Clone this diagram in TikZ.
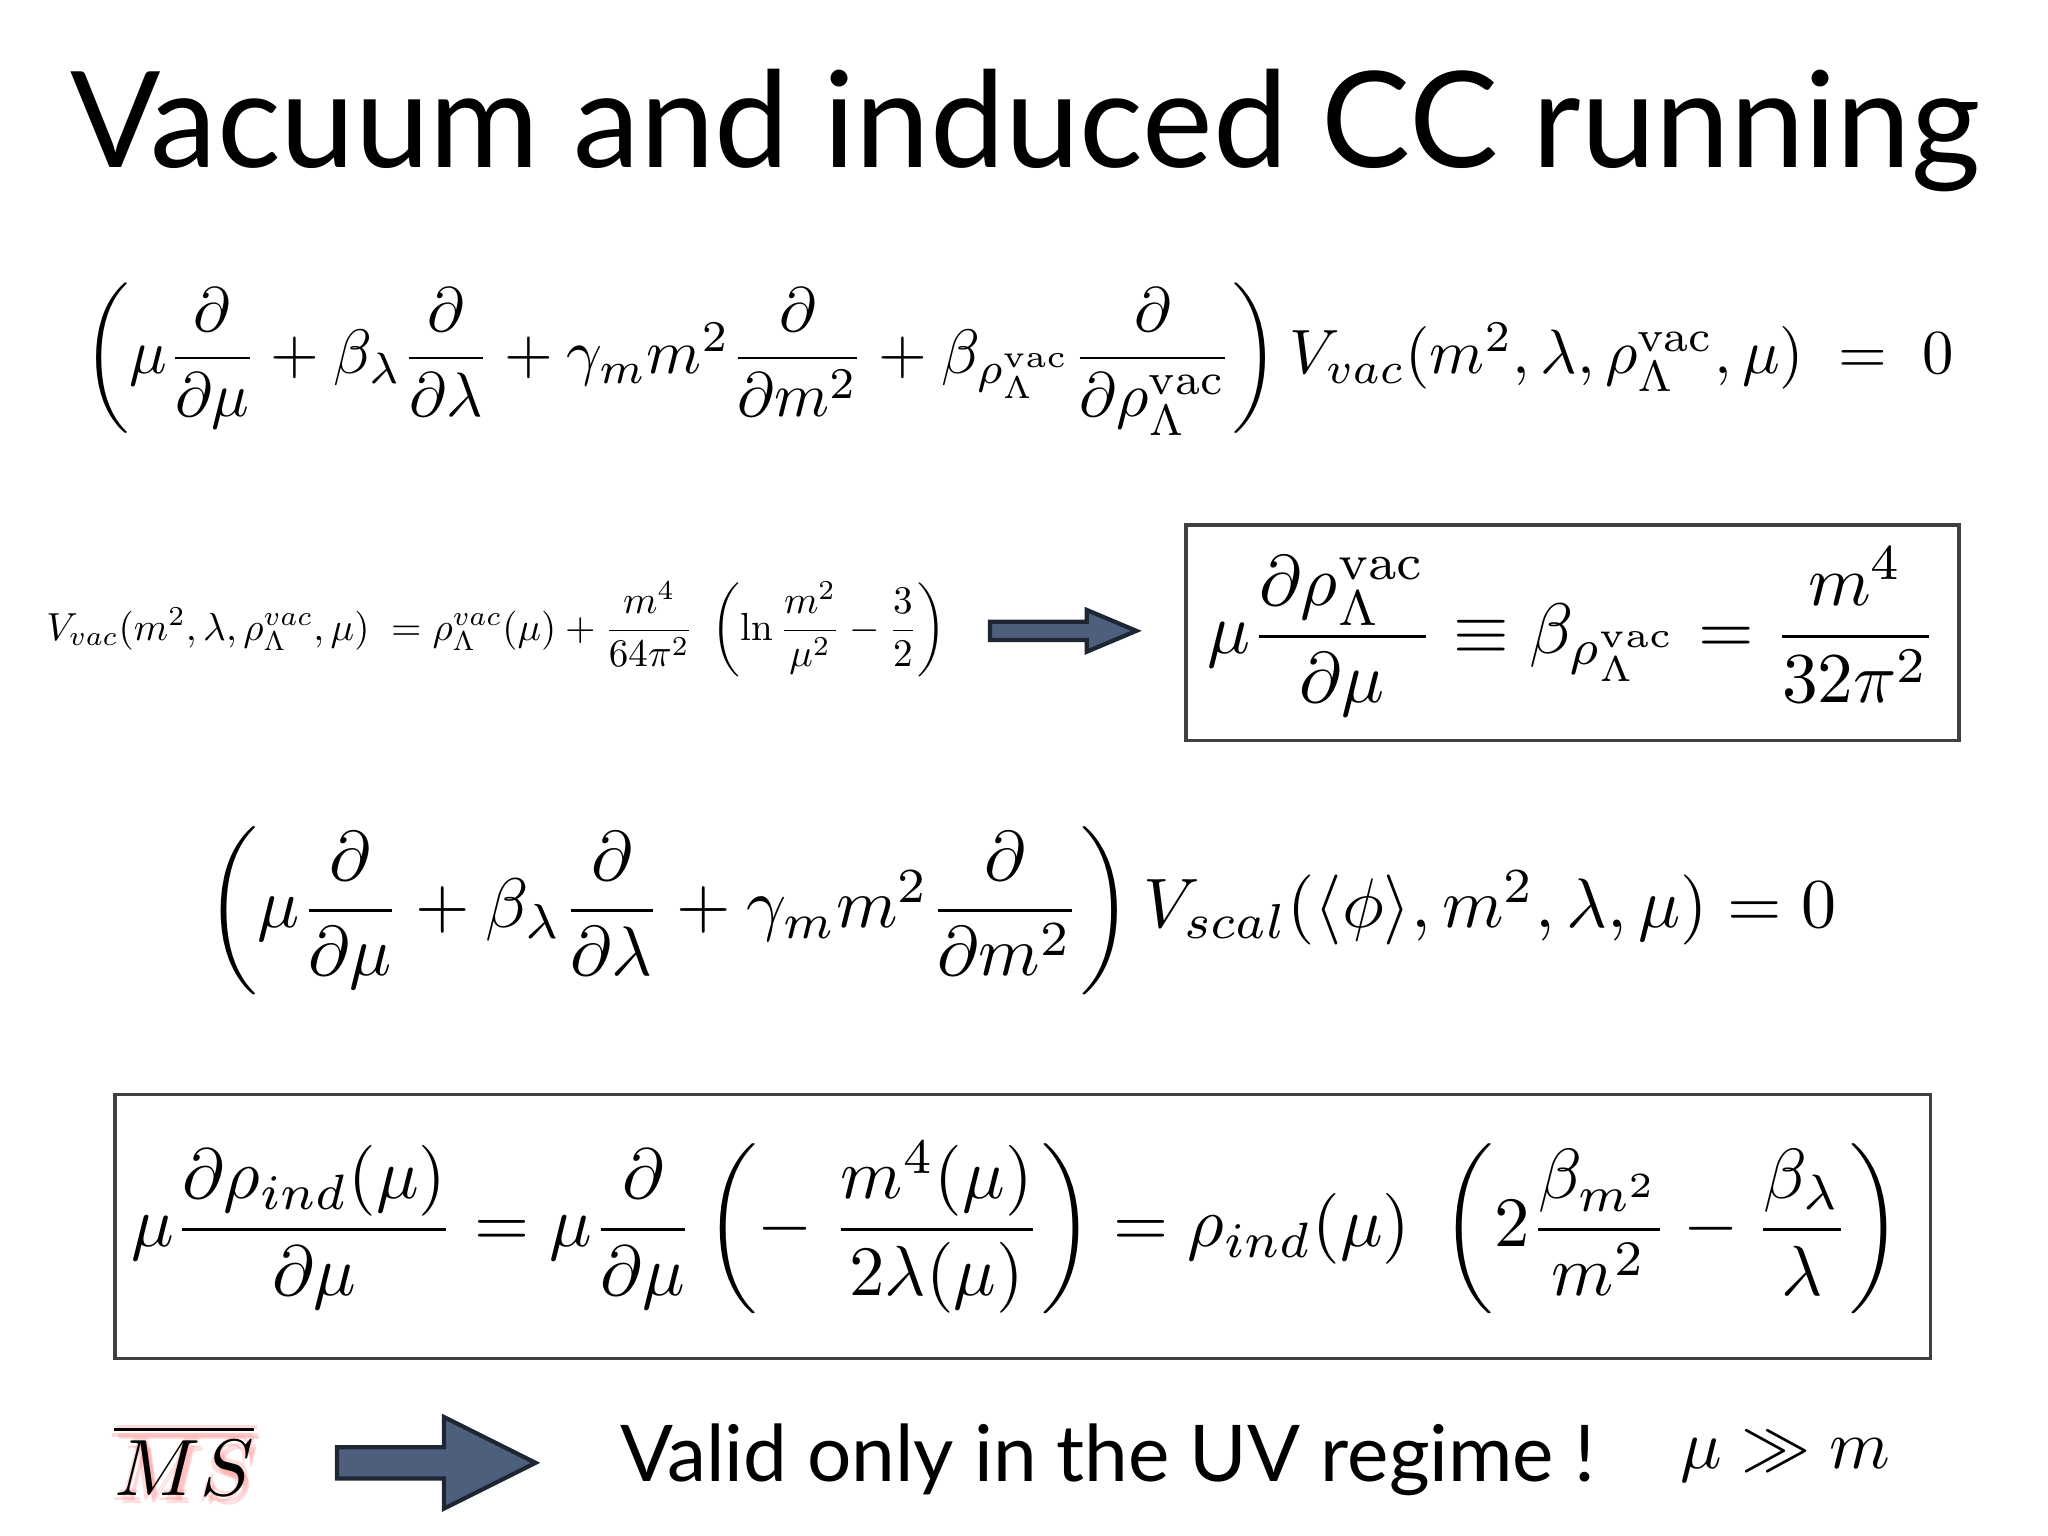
\documentclass[tikz,border=0pt]{standalone}
\usepackage{amsmath,amssymb}
\usepackage{fontspec}
\newfontfamily\titlefont{Lato}
\definecolor{arrowfill}{HTML}{4E5F7E}
\definecolor{arrowdraw}{HTML}{1E2533}
\tikzset{
  bigarrow/.style={draw=arrowdraw, fill=arrowfill, line width=1.2pt, line join=miter},
  eqbox/.style={draw=black!75, line width=1pt}
}
\begin{document}
\begin{tikzpicture}[x=0.01306cm,y=-0.01306cm]
\useasboundingbox[fill=white] (0,0) rectangle (1568,1176);
\node (title) at (785,100) {\resizebox{19.1cm}{!}{\titlefont Vacuum and induced CC running}};
\node (eqa) at (780,275) {\resizebox{18.7cm}{!}{$\left(\mu\dfrac{\partial}{\partial\mu}+\beta_\lambda\dfrac{\partial}{\partial\lambda}+\gamma_m m^2\dfrac{\partial}{\partial m^2}+\beta_{\rho_\Lambda^{\rm vac}}\dfrac{\partial}{\partial\rho_\Lambda^{\rm vac}}\right)V_{vac}(m^2,\lambda,\rho_\Lambda^{\rm vac},\mu)\;=\;0$}};
\node (eqb) at (380,482) {\resizebox{9.0cm}{!}{$V_{vac}(m^2,\lambda,\rho_\Lambda^{vac},\mu)\;=\rho_\Lambda^{vac}(\mu)+\dfrac{m^4}{64\pi^2}\;\left(\ln\dfrac{m^2}{\mu^2}-\dfrac{3}{2}\right)$}};
\draw[bigarrow] (758,476) -- (832,476) -- (832,467) -- (870,483) -- (832,499) -- (832,490) -- (758,490) -- cycle;
\draw[eqbox] (908,402) rectangle (1500,567);
\node (eqc) at (1204,484) {\resizebox{7.3cm}{!}{$\mu\dfrac{\partial\rho_\Lambda^{\rm vac}}{\partial\mu}\equiv\beta_{\rho_\Lambda^{\rm vac}}=\dfrac{m^4}{32\pi^2}$}};
\node (eqd) at (782,697) {\resizebox{16.3cm}{!}{$\left(\mu\dfrac{\partial}{\partial\mu}+\beta_\lambda\dfrac{\partial}{\partial\lambda}+\gamma_m m^2\dfrac{\partial}{\partial m^2}\right)V_{scal}(\langle\phi\rangle,m^2,\lambda,\mu)=0$}};
\draw[eqbox] (88,838) rectangle (1478,1040);
\node (eqe) at (778,940) {\resizebox{17.7cm}{!}{$\mu\dfrac{\partial\rho_{ind}(\mu)}{\partial\mu}=\mu\dfrac{\partial}{\partial\mu}\left(-\;\dfrac{m^4(\mu)}{2\lambda(\mu)}\right)=\rho_{ind}(\mu)\;\left(2\dfrac{\beta_{m^2}}{m^2}-\dfrac{\beta_\lambda}{\lambda}\right)$}};
\foreach \dx/\dy in {3/4,-2/4,2/-2,4/6}{
  \node[text=red!40, opacity=0.35] at (141+\dx,1118+\dy) {\resizebox{1.4cm}{!}{$\overline{MS}$}};}
\node (ms) at (141,1118) {\resizebox{1.4cm}{!}{$\overline{MS}$}};
\draw[bigarrow] (258,1108) -- (340,1108) -- (340,1085) -- (410,1120) -- (340,1155) -- (340,1132) -- (258,1132) -- cycle;
\node (valid) at (848,1118) {\resizebox{9.75cm}{!}{\titlefont Valid only in the UV regime !}};
\node (mugg) at (1367,1115) {\resizebox{2.1cm}{!}{$\mu\gg m$}};
\end{tikzpicture}
\end{document}
